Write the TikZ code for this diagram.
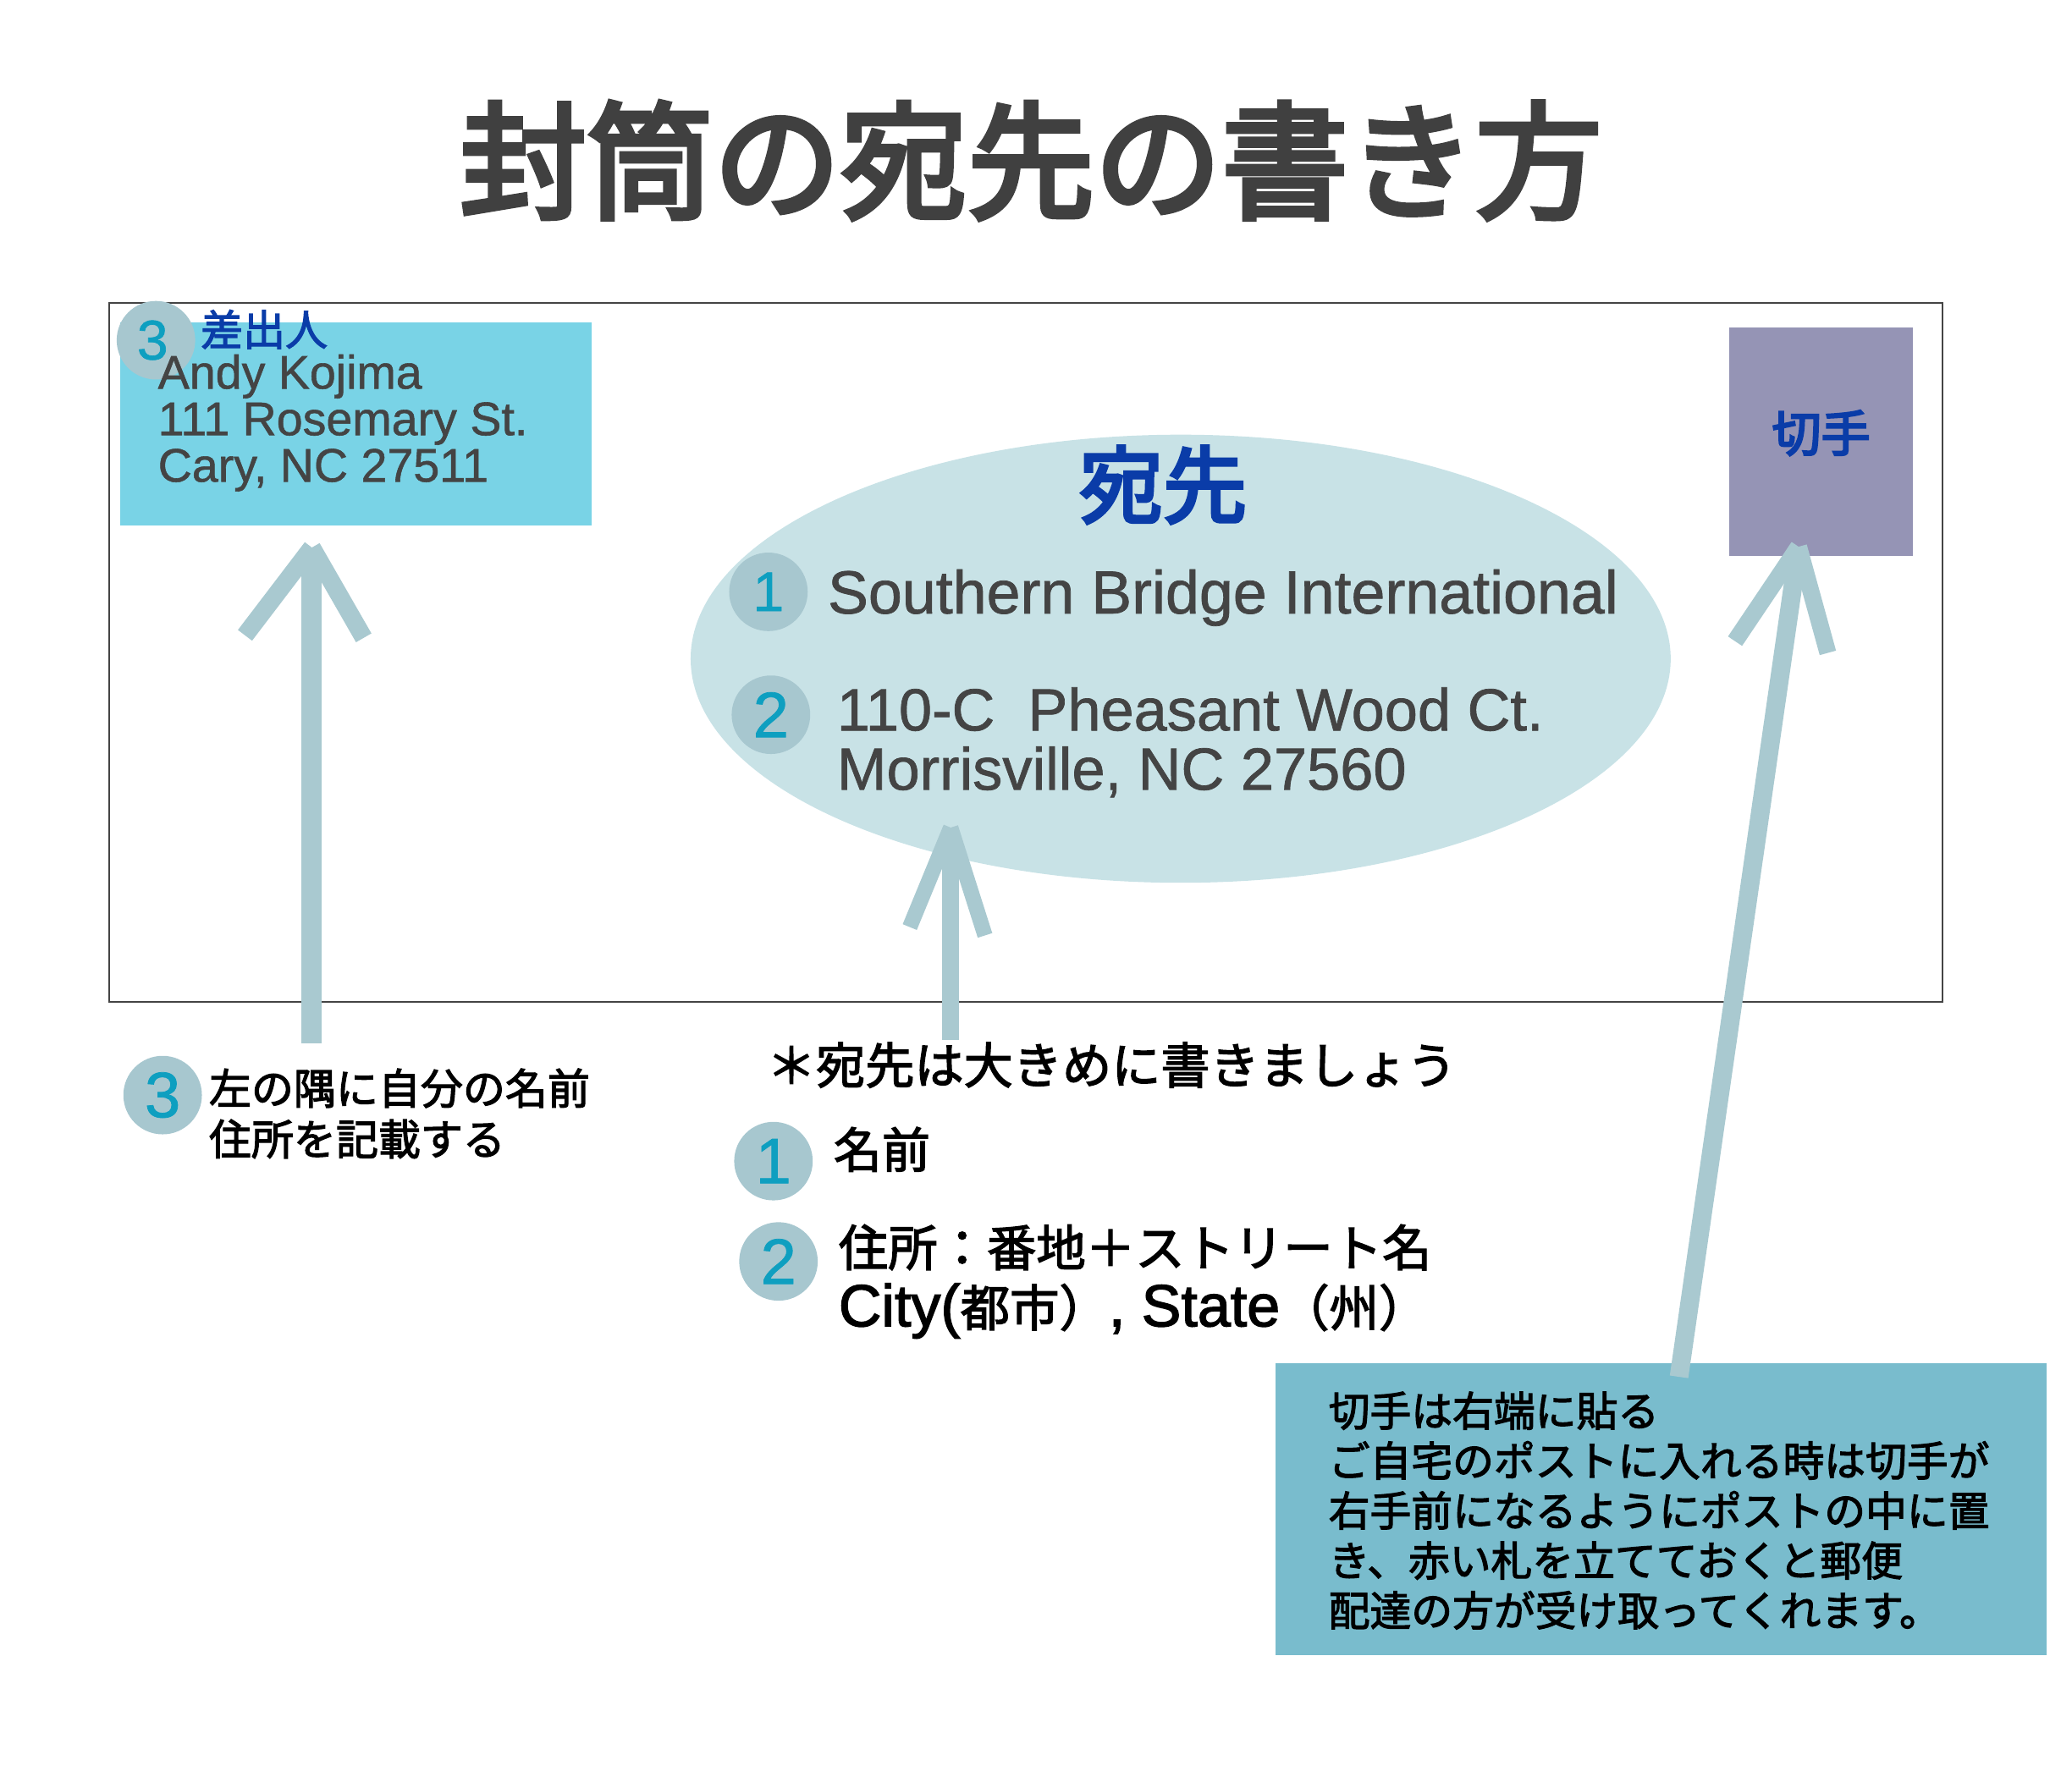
\documentclass[tikz,border=0pt]{standalone}
\usepackage{fontspec}
\usetikzlibrary{shapes.geometric}
\setmainfont{Noto Sans CJK JP}
\newfontfamily\jpm[FakeBold=2.4]{Noto Sans CJK JP}
\newfontfamily\jph[FakeBold=4]{Noto Sans CJK JP}
\newfontfamily\lat[FakeBold=1.0]{Liberation Sans}
\newfontfamily\latm[FakeBold=2.0]{Liberation Sans}
\newcommand{\fsz}[2]{\fontsize{#1pt}{#2pt}\selectfont}
\definecolor{titlegray}{HTML}{404040}
\definecolor{darktext}{HTML}{444444}
\definecolor{inkblue}{HTML}{0A3CA8}
\definecolor{senderbox}{HTML}{79D3E6}
\definecolor{stampbox}{HTML}{9594B5}
\definecolor{oval}{HTML}{C8E2E6}
\definecolor{badge}{HTML}{A7C7CF}
\definecolor{digit}{HTML}{0E9FC0}
\definecolor{notebox}{HTML}{79BCCD}
\definecolor{arrowc}{HTML}{A9C9D0}
\tikzset{
  x=0.494pt,y=-0.494pt,
  every node/.style={inner sep=0pt,outer sep=0pt},
  txt/.style={anchor=west,align=left},
  badgec/.style={circle,fill=badge,minimum size=46.4pt,text=digit,font=\lat\fsz{38}{38}},
  shaft/.style={draw=arrowc,line width=#1,line cap=butt},
  shaft/.default=12pt
}
\begin{document}
\begin{tikzpicture}
\useasboundingbox (0,0) rectangle (2478,2112.5);
\node[text=titlegray,font=\jph\fsz{75}{75}] (title) at (1233,192) {封筒の宛先の書き方};
\node[draw=darktext,line width=1pt,minimum width=1083pt,minimum height=413pt,anchor=north west] (envelope) at (131,362) {};
\node[fill=senderbox,minimum width=278.6pt,minimum height=120pt,anchor=north west] (sender) at (143.5,386) {};
\node[fill=stampbox,minimum width=108.7pt,minimum height=134.8pt,anchor=north west] (stamp) at (2068,392) {};
\node[ellipse,fill=oval,minimum width=579pt,minimum height=264.8pt] (oval) at (1412,788) {};
\node[fill=notebox,minimum width=455.9pt,minimum height=172.4pt,anchor=north west] (note) at (1525,1631) {};

\node[badgec,font=\lat\fsz{33}{33}] (b3top) at (186.5,407) {\kern-4pt 3};
\node[badgec,font=\lat\fsz{33}{33}] (b1) at (919,708) {1};
\node[badgec] (b2) at (922,855) {2};
\node[badgec] (b3low) at (194.5,1310) {3};
\node[badgec] (b1low) at (925,1389) {1};
\node[badgec] (b2low) at (931,1509) {2};

\node[txt,text=inkblue,font=\jpm\fsz{25}{25}] (sendlabel) at (240,394) {差出人};
\node[txt,text=darktext,font=\lat\fsz{27.8}{27.5}] (sendaddr) at (189,506) {Andy Kojima\\111 Rosemary St.\\Cary, NC 27511};
\node[text=inkblue,font=\jph\fsz{29}{29}] (stamplabel) at (2178,518) {切手};
\node[text=inkblue,font=\jph\fsz{49.5}{49.5}] (atena) at (1391,580) {宛先};
\node[txt,text=darktext,font=\lat\fsz{35.9}{35.9}] (name) at (990,715) {Southern Bridge International};
\node[txt,text=darktext,font=\lat\fsz{35.2}{35}] (addr) at (1001,888) {110-C\ \ Pheasant Wood Ct.\\Morrisville, NC 27560};

\node[txt,text=black,font=\jpm\fsz{29.1}{29}] (hint) at (917,1274) {＊宛先は大きめに書きましょう};
\node[txt,text=black,font=\jpm\fsz{28.5}{28.5}] (meimae) at (997,1375) {名前};
\node[txt,text=black,font=\jpm\fsz{29.2}{35.5}] (juusho) at (1003,1533) {住所：番地＋ストリート名\\{\latm\fsz{35}{35.5}City(}都市）{\latm\fsz{35}{35.5}, State}（州）};
\node[txt,text=black,font=\jpm\fsz{25}{30}] (lefttext) at (250,1332) {左の隅に自分の名前\\住所を記載する};
\node[txt,text=black,font=\jpm\fsz{24.4}{29.5}] (notetext) at (1589,1807) {切手は右端に貼る\\ご自宅のポストに入れる時は切手が\\右手前になるようにポストの中に置\\き、赤い札を立てておくと郵便\\配達の方が受け取ってくれます。};

\coordinate (la) at (373,1248); \coordinate (lt) at (373,655);
\coordinate (lb1) at (293,760); \coordinate (lb2) at (435,763);
\coordinate (ma) at (1137,1244); \coordinate (mt) at (1137,990);
\coordinate (mb1) at (1088,1109); \coordinate (mb2) at (1178,1119);
\coordinate (ra) at (2008,1647); \coordinate (rt) at (2151,654);
\coordinate (rb1) at (2075,767); \coordinate (rb2) at (2186,781);
\draw[shaft=10.5pt] (lb1) -- (lt);
\draw[shaft=10.5pt] (lb2) -- (lt);
\draw[shaft=12pt] (la) -- (lt);
\draw[shaft=9pt] (mb1) -- (mt);
\draw[shaft=9pt] (mb2) -- (mt);
\draw[shaft=10pt] (ma) -- (mt);
\draw[shaft=10pt] (rb1) -- (rt);
\draw[shaft=10pt] (rb2) -- (rt);
\draw[shaft=11pt] (ra) -- (rt);
\end{tikzpicture}
\end{document}
